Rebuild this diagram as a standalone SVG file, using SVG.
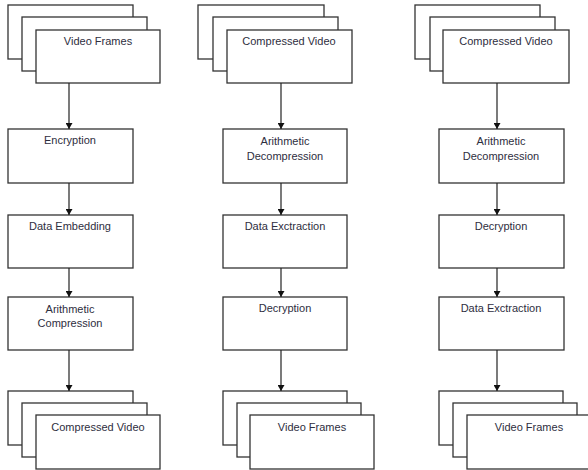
<svg xmlns="http://www.w3.org/2000/svg" width="588" height="470" viewBox="0 0 588 470">
<defs>
<style>
.b{fill:#fff;stroke:#333;stroke-width:1.3}
.t{font-family:"Liberation Sans",Arial,sans-serif;font-size:11px;fill:#2e2e3e;text-anchor:middle}
.c{stroke:#222;stroke-width:1.2;fill:none}
</style>
<marker id="ah" markerWidth="7" markerHeight="7" refX="6" refY="3.5" orient="auto" markerUnits="userSpaceOnUse">
<path d="M0,0 L6,3.5 L0,7 Z" fill="#111"/>
</marker>
</defs>
<rect width="588" height="470" fill="#fff"/>
<!-- Column 1 -->
<g id="c1-video-frames">
<rect class="b" x="8" y="5" width="125" height="54"/>
<rect class="b" x="22" y="17" width="125" height="54"/>
<rect class="b" x="36" y="30" width="124" height="53"/>
<text class="t" x="98" y="45">Video Frames</text>
</g>
<g id="c1-encryption">
<rect class="b" x="8" y="129" width="125" height="54"/>
<text class="t" x="70" y="144">Encryption</text>
</g>
<g id="c1-data-embedding">
<rect class="b" x="8" y="215" width="125" height="53"/>
<text class="t" x="70" y="230">Data Embedding</text>
</g>
<g id="c1-arith-compression">
<rect class="b" x="8" y="297" width="125" height="53"/>
<text class="t" x="70" y="313">Arithmetic</text>
<text class="t" x="70" y="327">Compression</text>
</g>
<g id="c1-compressed-video">
<rect class="b" x="8" y="391" width="125" height="54"/>
<rect class="b" x="22" y="403" width="125" height="54"/>
<rect class="b" x="36" y="415" width="124" height="54"/>
<text class="t" x="98" y="431">Compressed Video</text>
</g>
<!-- Column 2 -->
<g id="c2-compressed-video">
<rect class="b" x="198" y="5" width="126" height="54"/>
<rect class="b" x="213" y="17" width="125" height="54"/>
<rect class="b" x="227" y="30" width="125" height="53"/>
<text class="t" x="289" y="45">Compressed Video</text>
</g>
<g id="c2-arith-decompression">
<rect class="b" x="223" y="129" width="124" height="54"/>
<text class="t" x="285" y="145">Arithmetic</text>
<text class="t" x="285" y="160">Decompression</text>
</g>
<g id="c2-data-extraction">
<rect class="b" x="223" y="215" width="124" height="53"/>
<text class="t" x="285" y="230">Data Exctraction</text>
</g>
<g id="c2-decryption">
<rect class="b" x="223" y="297" width="124" height="53"/>
<text class="t" x="285" y="312">Decryption</text>
</g>
<g id="c2-video-frames">
<rect class="b" x="223" y="391" width="124" height="54"/>
<rect class="b" x="237" y="403" width="124" height="54"/>
<rect class="b" x="250" y="415" width="124" height="54"/>
<text class="t" x="312" y="431">Video Frames</text>
</g>
<!-- Column 3 -->
<g id="c3-compressed-video">
<rect class="b" x="415" y="5" width="125" height="54"/>
<rect class="b" x="430" y="17" width="125" height="54"/>
<rect class="b" x="443" y="30" width="126" height="53"/>
<text class="t" x="506" y="45">Compressed Video</text>
</g>
<g id="c3-arith-decompression">
<rect class="b" x="439" y="129" width="125" height="54"/>
<text class="t" x="501" y="145">Arithmetic</text>
<text class="t" x="501" y="160">Decompression</text>
</g>
<g id="c3-decryption">
<rect class="b" x="439" y="215" width="125" height="53"/>
<text class="t" x="501" y="230">Decryption</text>
</g>
<g id="c3-data-extraction">
<rect class="b" x="439" y="297" width="125" height="53"/>
<text class="t" x="501" y="312">Data Exctraction</text>
</g>
<g id="c3-video-frames">
<rect class="b" x="439" y="391" width="124" height="54"/>
<rect class="b" x="453" y="403" width="124" height="54"/>
<rect class="b" x="467" y="415" width="125" height="54"/>
<text class="t" x="529" y="431">Video Frames</text>
</g>
<!-- Connectors -->
<g id="connectors">
<line class="c" x1="69" y1="83" x2="69" y2="129" marker-end="url(#ah)"/>
<line class="c" x1="69" y1="183" x2="69" y2="215" marker-end="url(#ah)"/>
<line class="c" x1="69" y1="268" x2="69" y2="297" marker-end="url(#ah)"/>
<line class="c" x1="69" y1="350" x2="69" y2="391" marker-end="url(#ah)"/>
<line class="c" x1="281" y1="83" x2="281" y2="129" marker-end="url(#ah)"/>
<line class="c" x1="281" y1="183" x2="281" y2="215" marker-end="url(#ah)"/>
<line class="c" x1="281" y1="268" x2="281" y2="297" marker-end="url(#ah)"/>
<line class="c" x1="281" y1="350" x2="281" y2="391" marker-end="url(#ah)"/>
<line class="c" x1="497" y1="83" x2="497" y2="129" marker-end="url(#ah)"/>
<line class="c" x1="497" y1="183" x2="497" y2="215" marker-end="url(#ah)"/>
<line class="c" x1="497" y1="268" x2="497" y2="297" marker-end="url(#ah)"/>
<line class="c" x1="497" y1="350" x2="497" y2="391" marker-end="url(#ah)"/>
</g>
</svg>
